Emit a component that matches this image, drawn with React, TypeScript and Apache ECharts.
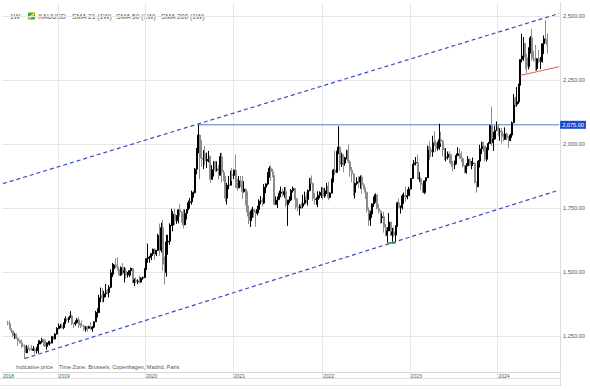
import React, { useEffect, useRef } from "react";
import * as echarts from "echarts";

// Weekly XAUUSD candles: each row is [close, high, low]; open = previous close
const firstOpen = 1300;
const wk2018: number[][] = [
  [1298, 1309, 1291], [1278, 1309, 1276], [1270, 1278, 1261], [1252, 1271, 1246], [1255, 1262, 1238],
  [1241, 1260, 1237], [1231, 1245, 1211], [1223, 1236, 1220], [1214, 1236, 1204], [1211, 1220, 1206],
  [1184, 1217, 1160], [1206, 1214, 1183], [1201, 1214, 1196], [1198, 1204, 1190], [1194, 1214, 1191],
  [1199, 1211, 1191], [1192, 1204, 1180], [1203, 1207, 1181], [1218, 1233, 1183], [1228, 1233, 1218],
  [1235, 1243, 1221], [1233, 1238, 1211], [1209, 1237, 1206], [1222, 1225, 1196], [1222, 1230, 1216],
  [1222, 1231, 1212], [1248, 1250, 1221], [1238, 1251, 1235], [1257, 1261, 1237], [1279, 1284, 1256],
];
const wk2019: number[][] = [
  [1285, 1298, 1276], [1289, 1297, 1280], [1282, 1298, 1279], [1298, 1303, 1276], [1317, 1326, 1297],
  [1314, 1320, 1305], [1322, 1324, 1302], [1328, 1347, 1320], [1299, 1332, 1292], [1298, 1300, 1281],
  [1302, 1311, 1290], [1313, 1320, 1298], [1292, 1324, 1281], [1291, 1300, 1281], [1290, 1310, 1287],
  [1276, 1294, 1270], [1286, 1288, 1266], [1280, 1289, 1267], [1286, 1290, 1279], [1277, 1304, 1275],
  [1284, 1288, 1266], [1305, 1306, 1280], [1341, 1348, 1305], [1341, 1358, 1322], [1399, 1411, 1340],
  [1409, 1439, 1382], [1400, 1437, 1381], [1415, 1426, 1382], [1426, 1453, 1402], [1419, 1434, 1413],
  [1440, 1449, 1400], [1497, 1510, 1437], [1513, 1535, 1480], [1527, 1531, 1490], [1520, 1555, 1514],
  [1507, 1557, 1505], [1488, 1510, 1484], [1517, 1522, 1484], [1497, 1535, 1490], [1504, 1519, 1459],
  [1488, 1516, 1474], [1490, 1500, 1478], [1505, 1506, 1480], [1514, 1517, 1486], [1459, 1512, 1456],
  [1468, 1475, 1445], [1462, 1479, 1456], [1464, 1471, 1452], [1460, 1485, 1455], [1476, 1479, 1459],
  [1478, 1482, 1470], [1510, 1515, 1476],
];
const wk2020: number[][] = [
  [1552, 1553, 1508], [1557, 1611, 1536], [1557, 1563, 1536], [1571, 1574, 1546], [1589, 1591, 1563],
  [1570, 1592, 1548], [1584, 1586, 1562], [1643, 1649, 1582], [1585, 1689, 1563], [1673, 1692, 1576],
  [1530, 1703, 1504], [1498, 1560, 1451], [1617, 1645, 1482], [1620, 1645, 1567], [1683, 1690, 1606],
  [1683, 1747, 1680], [1726, 1738, 1659], [1700, 1747, 1683], [1702, 1722, 1688], [1743, 1744, 1690],
  [1734, 1765, 1716], [1728, 1738, 1693], [1684, 1745, 1670], [1729, 1744, 1693], [1743, 1745, 1705],
  [1771, 1779, 1741], [1774, 1789, 1747], [1798, 1818, 1763], [1810, 1815, 1790], [1902, 1906, 1807],
  [1975, 1984, 1882], [2035, 2075, 1964], [1944, 2015, 1863], [1940, 2015, 1911], [1964, 1976, 1902],
  [1934, 1992, 1916], [1940, 1966, 1906], [1950, 1973, 1928], [1862, 1955, 1848], [1900, 1917, 1866],
  [1930, 1933, 1873], [1899, 1933, 1890], [1902, 1932, 1892], [1878, 1917, 1860], [1951, 1965, 1877],
  [1889, 1966, 1850], [1871, 1899, 1855], [1788, 1875, 1774], [1839, 1848, 1764], [1839, 1875, 1823],
  [1881, 1896, 1852], [1877, 1906, 1855],
];
const wk2021: number[][] = [
  [1898, 1900, 1863], [1850, 1959, 1828], [1828, 1864, 1817], [1856, 1875, 1832], [1848, 1875, 1831],
  [1814, 1875, 1785], [1824, 1855, 1810], [1784, 1826, 1760], [1734, 1815, 1717], [1700, 1760, 1687],
  [1719, 1740, 1676], [1745, 1755, 1712], [1732, 1745, 1712], [1729, 1740, 1677], [1744, 1758, 1721],
  [1777, 1784, 1730], [1777, 1797, 1764], [1769, 1790, 1756], [1831, 1843, 1765], [1844, 1846, 1808],
  [1881, 1890, 1838], [1905, 1913, 1868], [1892, 1916, 1855], [1877, 1903, 1870], [1764, 1878, 1761],
  [1781, 1795, 1762], [1784, 1795, 1750], [1808, 1818, 1785], [1812, 1834, 1792], [1802, 1825, 1794],
  [1814, 1832, 1790], [1763, 1832, 1753], [1780, 1782, 1680], [1781, 1795, 1770], [1818, 1824, 1778],
  [1827, 1834, 1810], [1788, 1828, 1782], [1754, 1809, 1745], [1750, 1787, 1737], [1761, 1765, 1721],
  [1757, 1771, 1746], [1768, 1801, 1749], [1793, 1814, 1763], [1783, 1810, 1770], [1818, 1822, 1759],
  [1865, 1868, 1815], [1846, 1877, 1843], [1788, 1849, 1778], [1783, 1808, 1762], [1783, 1792, 1762],
  [1799, 1815, 1753], [1811, 1815, 1788], [1829, 1831, 1789],
];
const wk2022: number[][] = [
  [1797, 1831, 1782], [1817, 1828, 1790], [1835, 1848, 1805], [1791, 1853, 1780], [1808, 1812, 1788],
  [1859, 1865, 1807], [1898, 1902, 1850], [1889, 1974, 1878], [1970, 1974, 1890], [1988, 2070, 1960],
  [1921, 1990, 1895], [1958, 1966, 1910], [1925, 1950, 1890], [1946, 1950, 1915], [1974, 1978, 1940],
  [1931, 1998, 1925], [1897, 1936, 1872], [1883, 1910, 1850], [1811, 1885, 1798], [1846, 1849, 1787],
  [1853, 1870, 1840], [1851, 1874, 1829], [1871, 1877, 1825], [1840, 1880, 1805], [1827, 1847, 1822],
  [1811, 1830, 1785], [1742, 1814, 1732], [1703, 1752, 1681], [1727, 1739, 1680], [1766, 1768, 1711],
  [1775, 1795, 1754], [1802, 1807, 1770], [1747, 1802, 1745], [1737, 1765, 1728], [1712, 1740, 1688],
  [1716, 1729, 1691], [1675, 1735, 1654], [1643, 1688, 1639], [1660, 1675, 1615], [1695, 1730, 1660],
  [1644, 1683, 1640], [1656, 1672, 1618], [1644, 1675, 1637], [1681, 1681, 1616], [1770, 1774, 1676],
  [1751, 1787, 1747], [1754, 1760, 1728], [1797, 1804, 1744], [1797, 1810, 1766], [1793, 1833, 1774],
  [1798, 1823, 1784], [1824, 1833, 1797],
];
const wk2023: number[][] = [
  [1865, 1865, 1823], [1920, 1922, 1865], [1926, 1937, 1896], [1928, 1949, 1916], [1865, 1959, 1861],
  [1865, 1890, 1852], [1842, 1870, 1819], [1811, 1847, 1809], [1856, 1858, 1804], [1868, 1870, 1809],
  [1989, 1994, 1867], [1978, 2010, 1936], [1969, 1988, 1949], [2007, 2032, 1950], [2004, 2049, 1992],
  [1983, 2015, 1969], [1990, 2009, 1974], [2017, 2079, 1977], [2011, 2048, 2002], [1977, 2016, 1951],
  [1946, 1985, 1937], [1948, 1984, 1932], [1961, 1971, 1939], [1958, 1972, 1925], [1921, 1958, 1910],
  [1919, 1934, 1893], [1925, 1935, 1902], [1955, 1963, 1920], [1962, 1987, 1952], [1959, 1982, 1942],
  [1943, 1971, 1929], [1914, 1947, 1909], [1889, 1916, 1885], [1915, 1925, 1884], [1940, 1953, 1913],
  [1919, 1944, 1914], [1924, 1933, 1901], [1925, 1947, 1914], [1849, 1928, 1846], [1833, 1854, 1810],
  [1933, 1937, 1834], [1981, 1997, 1908], [2006, 2009, 1961], [1992, 2009, 1970], [1940, 1978, 1932],
  [1981, 1987, 1932], [2002, 2008, 1976], [2072, 2075, 2001], [2005, 2146, 1993], [2020, 2048, 1973],
  [2053, 2071, 2016], [2063, 2088, 2058],
];
const wk2024: number[][] = [
  [2049, 2078, 2030], [2049, 2062, 2013], [2029, 2062, 2002], [2018, 2041, 2010], [2039, 2065, 2016],
  [2024, 2044, 2015], [2013, 2031, 1984], [2035, 2041, 2013], [2083, 2088, 2024], [2179, 2195, 2083],
  [2155, 2185, 2146], [2165, 2223, 2146], [2230, 2236, 2157], [2330, 2331, 2229], [2344, 2431, 2319],
  [2392, 2418, 2325], [2337, 2353, 2292], [2302, 2352, 2277], [2360, 2378, 2291], [2415, 2422, 2353],
  [2334, 2450, 2325], [2327, 2364, 2321], [2294, 2387, 2287], [2333, 2336, 2287], [2322, 2368, 2317],
  [2327, 2340, 2293], [2392, 2392, 2318], [2411, 2424, 2352], [2400, 2483, 2394], [2387, 2432, 2353],
];

const yTicks = [1250, 1500, 1750, 2000, 2250, 2500];
const resistance = 2075;
const resistanceFrom = "2020-08-07";
const channelUpper: [string, number][] = [["2018-05-18", 1845], ["2024-09-13", 2510]];
const channelLower: [string, number][] = [["2018-08-17", 1162], ["2024-09-13", 1820]];
const supportRed: [string, number][] = [["2024-04-05", 2268], ["2024-09-13", 2302]];
const lowMark: [string, number][] = [["2022-09-30", 1615], ["2022-11-04", 1615]];
const legendLabels = ["1W", "XAUUSD", "SMA 21 (1W)", "SMA 50 (1W)", "SMA 200 (1W)"];
const footerLabels = ["Indicative price", "Time Zone: Brussels, Copenhagen, Madrid, Paris"];

const LEAD = 3;
const TOTAL = 331;
const START = Date.UTC(2018, 4, 18);

const categories: string[] = [];
for (let i = 0; i < TOTAL; i++) {
  categories.push(new Date(START + i * 7 * 86400000).toISOString().slice(0, 10));
}
const lastCat = categories[TOTAL - 1];

const weeks = [...wk2018, ...wk2019, ...wk2020, ...wk2021, ...wk2022, ...wk2023, ...wk2024];
const candles: any[] = [];
for (let i = 0; i < TOTAL; i++) {
  const k = i - LEAD;
  if (k < 0 || k >= weeks.length) {
    candles.push("-");
  } else {
    const open = k === 0 ? firstOpen : weeks[k - 1][0];
    const [close, high, low] = weeks[k];
    candles.push([open, close, low, high]);
  }
}

const labelIdx = new Set<number>([0]);
const lineIdx = new Set<number>();
for (let i = 1; i < TOTAL; i++) {
  if (categories[i].slice(0, 4) !== categories[i - 1].slice(0, 4)) {
    labelIdx.add(i);
    lineIdx.add(i);
  }
}

const fmt = (v: number) =>
  v.toLocaleString("en-US", { minimumFractionDigits: 2, maximumFractionDigits: 2 });

const FONT = "Liberation Sans, Arial, sans-serif";

export default function App() {
  const ref = useRef<HTMLDivElement>(null);
  useEffect(() => {
    if (!ref.current) return;
    const chart = echarts.init(ref.current, null, { renderer: "svg" });
    const dash = { color: "#3a4cc0", width: 1.2, type: [4, 3] as any };
    const seg = (pts: [string, number][], lineStyle: any) => [
      { coord: pts[0], lineStyle },
      { coord: pts[1], lineStyle },
    ];
    const legendX = [10, 38, 72, 116, 161];
    const option: any = {
      animation: false,
      grid: { left: 0, top: 3, width: 560, height: 369 },
      xAxis: {
        type: "category",
        data: categories,
        boundaryGap: true,
        axisLine: { show: true, lineStyle: { color: "#dadada" } },
        axisTick: {
          show: true,
          length: 6,
          interval: (i: number) => lineIdx.has(i),
          lineStyle: { color: "#e2e2e2" },
        },
        axisLabel: {
          interval: (i: number) => labelIdx.has(i),
          formatter: (v: string) => v.slice(0, 4),
          align: "left",
          margin: 1,
          fontSize: 5,
          color: "#555",
          fontFamily: FONT,
        },
        splitLine: {
          show: true,
          interval: (i: number) => lineIdx.has(i),
          lineStyle: { color: "#e6e6e6" },
        },
      },
      yAxis: {
        type: "value",
        position: "right",
        min: 1109,
        max: 2551,
        axisLine: { show: true, lineStyle: { color: "#dadada" } },
        axisTick: { show: false, customValues: yTicks },
        axisLabel: {
          customValues: yTicks,
          formatter: fmt,
          fontSize: 5.6,
          color: "#555",
          margin: 3,
          fontFamily: FONT,
        },
        splitLine: { show: true, lineStyle: { color: "#e6e6e6" } },
      },
      series: [
        {
          type: "line",
          data: [
            [resistanceFrom, resistance],
            [lastCat, resistance],
          ],
          showSymbol: false,
          symbol: "none",
          silent: true,
          z: 1,
          lineStyle: { color: "#4f7ec8", width: 1 },
          endLabel: {
            show: true,
            formatter: () => fmt(resistance),
            backgroundColor: "#1b46d2",
            color: "#fff",
            fontSize: 5.6,
            fontFamily: FONT,
            padding: [1, 2],
            distance: 1,
          },
        },
        {
          type: "candlestick",
          data: candles,
          barWidth: "90%",
          z: 2,
          itemStyle: {
            color: "#000",
            color0: "#ffffff",
            borderColor: "#000",
            borderColor0: "#8c8c8c",
            borderWidth: 1,
          },
          markLine: {
            symbol: ["none", "none"],
            silent: true,
            animation: false,
            label: { show: false },
            data: [
              seg(channelUpper, dash),
              seg(channelLower, dash),
              seg(supportRed, { color: "#e05a5a", width: 1, type: "solid" }),
              seg(lowMark, { color: "#2f8f43", width: 1.6, type: "solid" }),
            ],
          },
        },
      ],
      graphic: [
        ...legendLabels.map((t, i) => ({
          type: "text",
          x: legendX[i],
          y: 16,
          silent: true,
          style: { text: t, fill: "#555", fontSize: 6.7, fontFamily: FONT, verticalAlign: "middle" },
        })),
        { type: "rect", shape: { x: 28, y: 12.5, width: 7, height: 7, r: 1 }, style: { fill: "#3fa83a" } },
        { type: "line", shape: { x1: 29, y1: 18.5, x2: 34, y2: 13.5 }, style: { stroke: "#f2e600", lineWidth: 2 } },
        {
          type: "text",
          x: 16,
          y: 366.5,
          style: { text: footerLabels[0], fill: "#555", fontSize: 5.5, fontFamily: FONT, verticalAlign: "middle" },
        },
        {
          type: "text",
          x: 59,
          y: 366.5,
          style: { text: footerLabels[1], fill: "#555", fontSize: 5.5, fontFamily: FONT, verticalAlign: "middle" },
        },
        { type: "line", shape: { x1: 0, y1: 378.5, x2: 560, y2: 378.5 }, style: { stroke: "#dedede", lineWidth: 1 } },
        { type: "line", shape: { x1: 0, y1: 385.5, x2: 560, y2: 385.5 }, style: { stroke: "#e4e4e4", lineWidth: 1 } },
        { type: "line", shape: { x1: 560.5, y1: 372, x2: 560.5, y2: 386 }, style: { stroke: "#dadada", lineWidth: 1 } },
      ],
    };
    chart.setOption(option);
    return () => chart.dispose();
  }, []);
  return (
    <div
      ref={ref}
      style={{ position: "absolute", left: 0, top: 0, width: 590, height: 390, background: "#fff" }}
    />
  );
}
